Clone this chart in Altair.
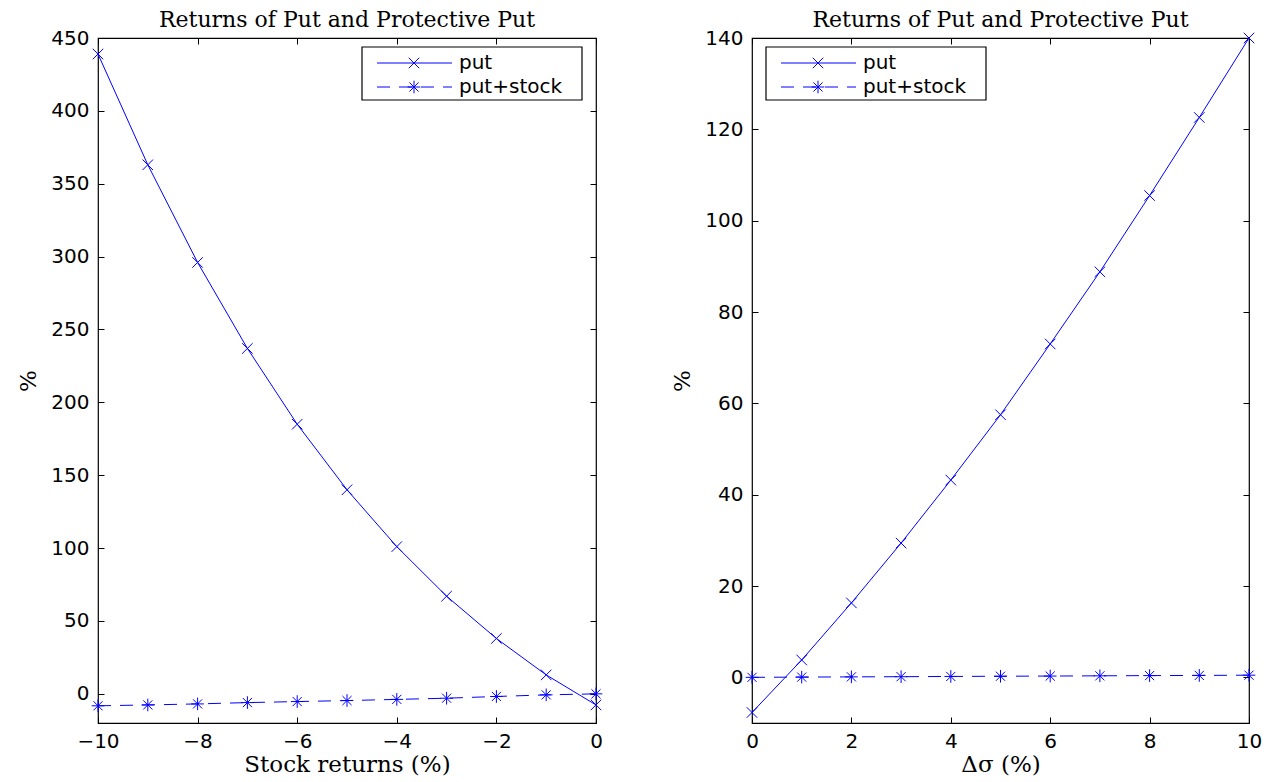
import altair as alt
import pandas as pd

BLUE = "#0000ff"
series_names = ["put", "put+stock"]
panel_title = "Returns of Put and Protective Put"

# left panel
stock_ret = [-10, -9, -8, -7, -6, -5, -4, -3, -2, -1, 0]
put_left = [439, 363, 296, 237, 185, 140, 101, 67, 38, 13, -7.6]
pstock_left = [-8.2, -7.6, -6.9, -6.0, -5.3, -4.6, -3.8, -3.0, -1.8, -0.7, 0.0]
left_xticks = [-10, -8, -6, -4, -2, 0]
left_yticks = [0, 50, 100, 150, 200, 250, 300, 350, 400, 450]

# right panel
dsigma = [0, 1, 2, 3, 4, 5, 6, 7, 8, 9, 10]
put_right = [-7.7, 3.8, 16.3, 29.4, 43.2, 57.5, 73.0, 88.8, 105.5, 122.6, 140.0]
pstock_right = [0.0, 0.05, 0.1, 0.14, 0.19, 0.24, 0.28, 0.33, 0.38, 0.42, 0.47]
right_xticks = [0, 2, 4, 6, 8, 10]
right_yticks = [0, 20, 40, 60, 80, 100, 120, 140]

X_SHAPE = "M-1,-1L1,1M-1,1L1,-1"
STAR_SHAPE = "M-1,0L1,0M0,-1L0,1M-0.72,-0.72L0.72,0.72M-0.72,0.72L0.72,-0.72"
DASH = [13, 9]
LABEL_FONT = "DejaVu Sans"
SERIF = "DejaVu Serif"
TICK = 6


def panel(xs, put, pstock, xdom, ydom, xticks, yticks, xtitle, W, H, legend_left):
    df = pd.DataFrame({"x": xs, "put": put, "pstock": pstock})
    xs_ = alt.Scale(domain=xdom, nice=False, zero=False)
    ys_ = alt.Scale(domain=ydom, nice=False, zero=False)
    base = alt.Chart(df)

    x_main = alt.X("x:Q", scale=xs_, title=xtitle,
                   axis=alt.Axis(orient="bottom", values=xticks, offset=-TICK, tickSize=TICK,
                                 domain=False, grid=False, labelPadding=TICK + 2,
                                 labelFont=LABEL_FONT, labelFontSize=20, labelColor="black",
                                 tickColor="black", titleFont=SERIF, titleFontSize=23,
                                 titleFontWeight="normal", titleColor="black", titlePadding=2,
                                 format="d", labelFlush=False))
    y_main = alt.Y("put:Q", scale=ys_, title="%",
                   axis=alt.Axis(orient="left", values=yticks, offset=-TICK, tickSize=TICK,
                                 domain=False, grid=False, labelPadding=TICK + 3,
                                 labelFont=LABEL_FONT, labelFontSize=20, labelColor="black",
                                 tickColor="black", titleFont=SERIF, titleFontSize=23,
                                 titleFontWeight="normal", titleColor="black", titlePadding=10,
                                 labelFlush=False))
    x_none = alt.X("x:Q", scale=xs_, axis=None)

    put_line = base.mark_line(color=BLUE, strokeWidth=1, clip=False).encode(x=x_main, y=y_main)
    put_pts = base.mark_point(shape=X_SHAPE, size=110, filled=False, color=BLUE,
                              strokeWidth=1, opacity=1).encode(
        x=x_none, y=alt.Y("put:Q", scale=ys_, axis=None))
    ps_line = base.mark_line(color=BLUE, strokeWidth=1, strokeDash=DASH).encode(
        x=x_none, y=alt.Y("pstock:Q", scale=ys_, axis=None))
    ps_pts = base.mark_point(shape=STAR_SHAPE, size=160, filled=False, color=BLUE,
                             strokeWidth=1, opacity=1).encode(
        x=x_none, y=alt.Y("pstock:Q", scale=ys_, axis=None))
    opp = base.mark_point(opacity=0).encode(
        x=alt.X("x:Q", scale=xs_, title=None,
                axis=alt.Axis(orient="top", values=xticks, offset=-TICK, tickSize=TICK,
                              domain=False, grid=False, labels=False, tickColor="black")),
        y=alt.Y("put:Q", scale=ys_, title=None,
                axis=alt.Axis(orient="right", values=yticks, offset=-TICK, tickSize=TICK,
                              domain=False, grid=False, labels=False, tickColor="black")))

    # legend box
    bx0 = legend_left
    bx1 = legend_left + 220
    by0, by1 = 9, 62
    rows = [25, 49]
    leg_df = pd.DataFrame({"name": series_names})
    one = leg_df.head(1)
    box = alt.Chart(one).mark_rect(fill="white", stroke="black", strokeWidth=1.2).encode(
        x=alt.value(bx0), x2=alt.value(bx1), y=alt.value(by0), y2=alt.value(by1))
    l1 = alt.Chart(one).mark_rule(color=BLUE, strokeWidth=1).encode(
        x=alt.value(bx0 + 15), x2=alt.value(bx0 + 90), y=alt.value(rows[0]))
    l2 = alt.Chart(one).mark_rule(color=BLUE, strokeWidth=1, strokeDash=DASH).encode(
        x=alt.value(bx0 + 15), x2=alt.value(bx0 + 90), y=alt.value(rows[1]))
    m1 = alt.Chart(one).mark_point(shape=X_SHAPE, size=110, filled=False, color=BLUE,
                                   strokeWidth=1, opacity=1).encode(
        x=alt.value(bx0 + 52), y=alt.value(rows[0]))
    m2 = alt.Chart(one).mark_point(shape=STAR_SHAPE, size=160, filled=False, color=BLUE,
                                   strokeWidth=1, opacity=1).encode(
        x=alt.value(bx0 + 52), y=alt.value(rows[1]))
    t1 = alt.Chart(leg_df.iloc[[0]]).mark_text(align="left", baseline="middle", font=LABEL_FONT,
                                               fontSize=20, color="black").encode(
        x=alt.value(bx0 + 97), y=alt.value(rows[0]), text="name:N")
    t2 = alt.Chart(leg_df.iloc[[1]]).mark_text(align="left", baseline="middle", font=LABEL_FONT,
                                               fontSize=20, color="black").encode(
        x=alt.value(bx0 + 97), y=alt.value(rows[1]), text="name:N")

    return alt.layer(opp, put_line, put_pts, ps_line, ps_pts, box, l1, l2, m1, m2, t1, t2).resolve_axis(
        x="independent", y="independent").properties(
        width=W, height=H,
        title=alt.TitleParams(panel_title, font=SERIF, fontSize=22, fontWeight="normal",
                              color="black", anchor="middle", offset=-4))


left = panel(stock_ret, put_left, pstock_left, [-10, 0], [-20, 450], left_xticks, left_yticks,
             "Stock returns (%)", 498, 685, 498 - 14 - 220)
right = panel(dsigma, put_right, pstock_right, [0, 10], [-10, 140], right_xticks, right_yticks,
              "Δσ (%)", 497, 685, 14)

chart = alt.hconcat(left, right, spacing=66).properties(
    padding={"left": 9, "top": 0, "right": 0, "bottom": 0}
).configure_view(stroke="black", strokeWidth=1.2)

chart.save("out.html", embed_options={"renderer": "svg", "actions": False})
